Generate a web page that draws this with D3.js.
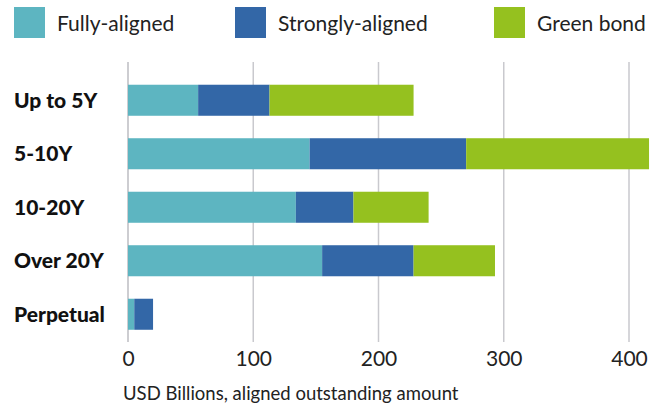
<!DOCTYPE html>
<html>
<head>
<meta charset="utf-8">
<script src="https://cdn.jsdelivr.net/npm/d3@7/dist/d3.min.js"></script>
<style>
  html, body { margin: 0; padding: 0; background: #fff; }
  svg { display: block; font-family: Lato, 'Open Sans', sans-serif; }
</style>
</head>
<body>
<div id="chart"></div>
<script>
  /* ---- Data ---- */
  const categories = ['Up to 5Y', '5-10Y', '10-20Y', 'Over 20Y', 'Perpetual'];
  const seriesNames = ['Fully-aligned', 'Strongly-aligned', 'Green bond'];
  const fullyAligned = [56, 145, 134, 155, 5];
  const stronglyAligned = [57, 125, 46, 73, 15];
  const greenBond = [115, 146, 60, 65, 0];
  const xTicks = [0, 100, 200, 300, 400];
  const axisTitle = 'USD Billions, aligned outstanding amount';

  const COLORS = ['#5db5c1', '#3367a7', '#95c11f'];

  const width = 657, height = 408;

  const rows = categories.map((c, i) => ({
    cat: c,
    'Fully-aligned': fullyAligned[i],
    'Strongly-aligned': stronglyAligned[i],
    'Green bond': greenBond[i]
  }));
  const stacked = d3.stack().keys(seriesNames)(rows);

  const x = d3.scaleLinear().domain([0, 400]).range([128, 629]);
  const y = d3.scaleBand().domain(categories)
    .range([73.5, 341])
    .paddingInner(0.42)
    .paddingOuter(0.21);

  const svg = d3.select('#chart').append('svg')
    .attr('width', width)
    .attr('height', height);

  // Gridlines
  svg.append('g')
    .selectAll('line')
    .data(xTicks)
    .join('line')
    .attr('x1', d => x(d)).attr('x2', d => x(d))
    .attr('y1', 62).attr('y2', 342)
    .attr('stroke', d => d === 0 ? '#bdbdc2' : '#c9c9ce')
    .attr('stroke-width', 1.5);

  // Bars
  svg.append('g')
    .selectAll('g')
    .data(stacked)
    .join('g')
    .attr('fill', (d, i) => COLORS[i])
    .selectAll('rect')
    .data(d => d)
    .join('rect')
    .attr('x', d => x(d[0]))
    .attr('y', d => y(d.data.cat))
    .attr('width', d => x(d[1]) - x(d[0]))
    .attr('height', y.bandwidth());

  // Category labels
  svg.append('g')
    .selectAll('text')
    .data(categories)
    .join('text')
    .attr('x', 14)
    .attr('y', d => y(d) + y.bandwidth() / 2)
    .attr('dy', '0.36em')
    .attr('font-size', '21px')
    .attr('font-weight', 900)
    .attr('fill', '#111')
    .text(d => d);

  // X axis tick labels
  const axis = svg.append('g')
    .attr('transform', 'translate(0,351)')
    .call(d3.axisBottom(x).tickValues(xTicks).tickSize(0).tickPadding(0));
  axis.select('.domain').remove();
  axis.selectAll('text')
    .attr('dy', '0.71em')
    .attr('font-size', '21px')
    .attr('font-family', "Lato, 'Open Sans', sans-serif")
    .attr('fill', '#222');

  svg.append('text')
    .attr('x', 123)
    .attr('y', 400)
    .attr('font-size', '18.5px')
    .attr('fill', '#222')
    .text(axisTitle);

  // Legend
  const legendX = [14, 235, 494];
  const legend = svg.append('g')
    .selectAll('g')
    .data(seriesNames)
    .join('g')
    .attr('transform', (d, i) => `translate(${legendX[i]},7)`);
  legend.append('rect')
    .attr('width', 31).attr('height', 31)
    .attr('fill', (d, i) => COLORS[i]);
  legend.append('text')
    .attr('x', 43)
    .attr('y', 16)
    .attr('dy', '0.36em')
    .attr('font-size', '21px')
    .attr('fill', '#222')
    .text(d => d);
</script>
</body>
</html>
